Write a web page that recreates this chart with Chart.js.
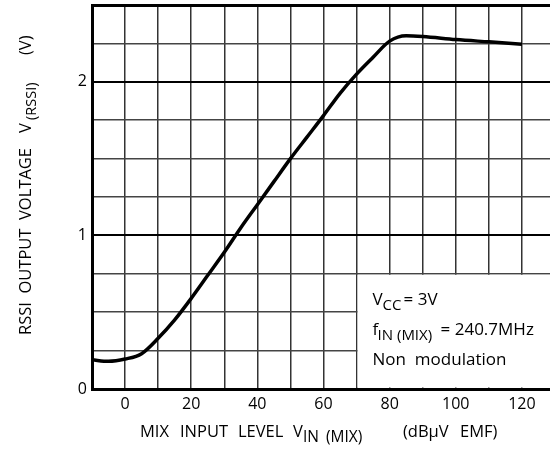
<!DOCTYPE html>
<html>
<head>
<meta charset="utf-8">
<script src="https://cdn.jsdelivr.net/npm/chart.js@4"></script>
<style>
  html, body { margin: 0; padding: 0; background: #fff; overflow: hidden; }
  #wrap { width: 560px; height: 456px; }
</style>
</head>
<body>
<div id="wrap"><canvas id="rssiChart" width="560" height="456"></canvas></div>
<script>
// --- DATA ---
const inputLevels = [-10, -5, 0, 5, 10, 15, 20, 25, 30, 35, 40, 45, 50, 55, 60, 65, 70, 75, 80, 85, 90, 100, 110, 120];
const rssiVolts = [0.19, 0.18, 0.195, 0.23, 0.33, 0.45, 0.59, 0.74, 0.89, 1.05, 1.20, 1.35, 1.50, 1.64, 1.78, 1.925, 2.05, 2.16, 2.265, 2.30, 2.295, 2.275, 2.26, 2.245];
const xTickLabels = [0, 20, 40, 60, 80, 100, 120];
const yTickLabels = [0, 1, 2];
const conditionLines = [
  [{ t: "V", dx: 0 }, { t: "CC", dx: 10, sub: true }, { t: "= 3V", dx: 31 }],
  [{ t: "f", dx: 0 }, { t: "IN (MIX)", dx: 5, sub: true }, { t: "= 240.7MHz", dx: 68 }],
  [{ t: "Non  modulation", dx: 0 }]
];

const FONT = "'Open Sans', 'DejaVu Sans', sans-serif";

function drawRuns(ctx, runs, x, y, size, subSize) {
  runs.forEach((r) => {
    const s = r.sub ? subSize : size;
    ctx.font = `${s}px ${FONT}`;
    ctx.fillText(r.t, x + r.dx, y + (r.sub ? 5 : 0));
  });
}

// draws the condition box, and the axis titles with their subscripts
const annotationPlugin = {
  id: "annotations",
  beforeDatasetsDraw(chart) {
    const { ctx, scales, chartArea } = chart;
    const x0 = scales.x.getPixelForValue(70);
    const y0 = scales.y.getPixelForValue(0.75);
    const yb = scales.y.getPixelForValue(0);
    ctx.save();
    ctx.fillStyle = "#fff";
    ctx.fillRect(x0 + 1, y0 + 1, chartArea.right - x0, yb - y0 - 2.5);
    ctx.restore();
  },
  afterDraw(chart) {
    const { ctx, chartArea } = chart;
    ctx.save();
    ctx.fillStyle = "#000";
    ctx.textBaseline = "alphabetic";
    ctx.textAlign = "left";

    // condition text
    const bx = chart.scales.x.getPixelForValue(70) + 16;
    conditionLines.forEach((line, i) => {
      drawRuns(ctx, line, bx, 305 + i * 30, 17, 15);
    });

    // x title, word by word
    drawRuns(ctx, [
      { t: "MIX", dx: 0 },
      { t: "INPUT", dx: 40 },
      { t: "LEVEL", dx: 98 },
      { t: "V", dx: 153 },
      { t: "IN", dx: 163, sub: true },
      { t: "(MIX)", dx: 186, sub: true },
      { t: "(dB\u03BCV", dx: 263 },
      { t: "EMF)", dx: 320 }
    ], chartArea.left + 48, 437, 16.5, 15.5);

    // y title (rotated)
    ctx.translate(31, 335);
    ctx.rotate(-Math.PI / 2);
    drawRuns(ctx, [
      { t: "RSSI  OUTPUT  VOLTAGE", dx: 0 },
      { t: "V", dx: 202 },
      { t: "(RSSI)", dx: 215, sub: true },
      { t: "(V)", dx: 280 }
    ], 0, 0, 16.5, 14.5);
    ctx.restore();
  }
};

const ctx = document.getElementById("rssiChart");
new Chart(ctx, {
  type: "line",
  data: {
    datasets: [{
      data: inputLevels.map((x, i) => ({ x: x, y: rssiVolts[i] })),
      borderColor: "#000",
      borderWidth: 3.5,
      pointRadius: 0,
      cubicInterpolationMode: "monotone",
      fill: false
    }]
  },
  options: {
    responsive: false,
    animation: false,
    layout: { padding: { top: 5, right: 5, left: 0, bottom: 0 } },
    plugins: { legend: { display: false }, tooltip: { enabled: false } },
    scales: {
      x: {
        type: "linear",
        min: -10,
        max: 130,
        afterFit: (s) => { s.height = 67; s.paddingLeft = 0; s.paddingRight = 0; },
        ticks: {
          stepSize: 10,
          autoSkip: false,
          maxRotation: 0,
          padding: 6,
          color: "#000",
          font: { family: FONT, size: 16 },
          callback: (v) => (xTickLabels.includes(v) ? v : "")
        },
        grid: { color: "#333", lineWidth: 1.5, drawTicks: false },
        border: { display: true, color: "#000", width: 3 }
      },
      y: {
        min: 0,
        max: 2.5,
        afterFit: (s) => { s.width = 92; s.paddingTop = 0; s.paddingBottom = 0; },
        ticks: {
          stepSize: 0.25,
          padding: 5,
          color: "#000",
          font: { family: FONT, size: 16 },
          callback: (v) => (yTickLabels.includes(v) ? v : "")
        },
        grid: {
          drawTicks: false,
          color: (c) => (Number.isInteger(c.tick.value) || c.tick.value === 2.5 ? "#000" : "#444"),
          lineWidth: (c) => (c.tick.value === 2.5 ? 3 : Number.isInteger(c.tick.value) ? 2 : 1.5)
        },
        border: { display: true, color: "#000", width: 3 }
      }
    }
  },
  plugins: [annotationPlugin]
});
</script>
</body>
</html>
